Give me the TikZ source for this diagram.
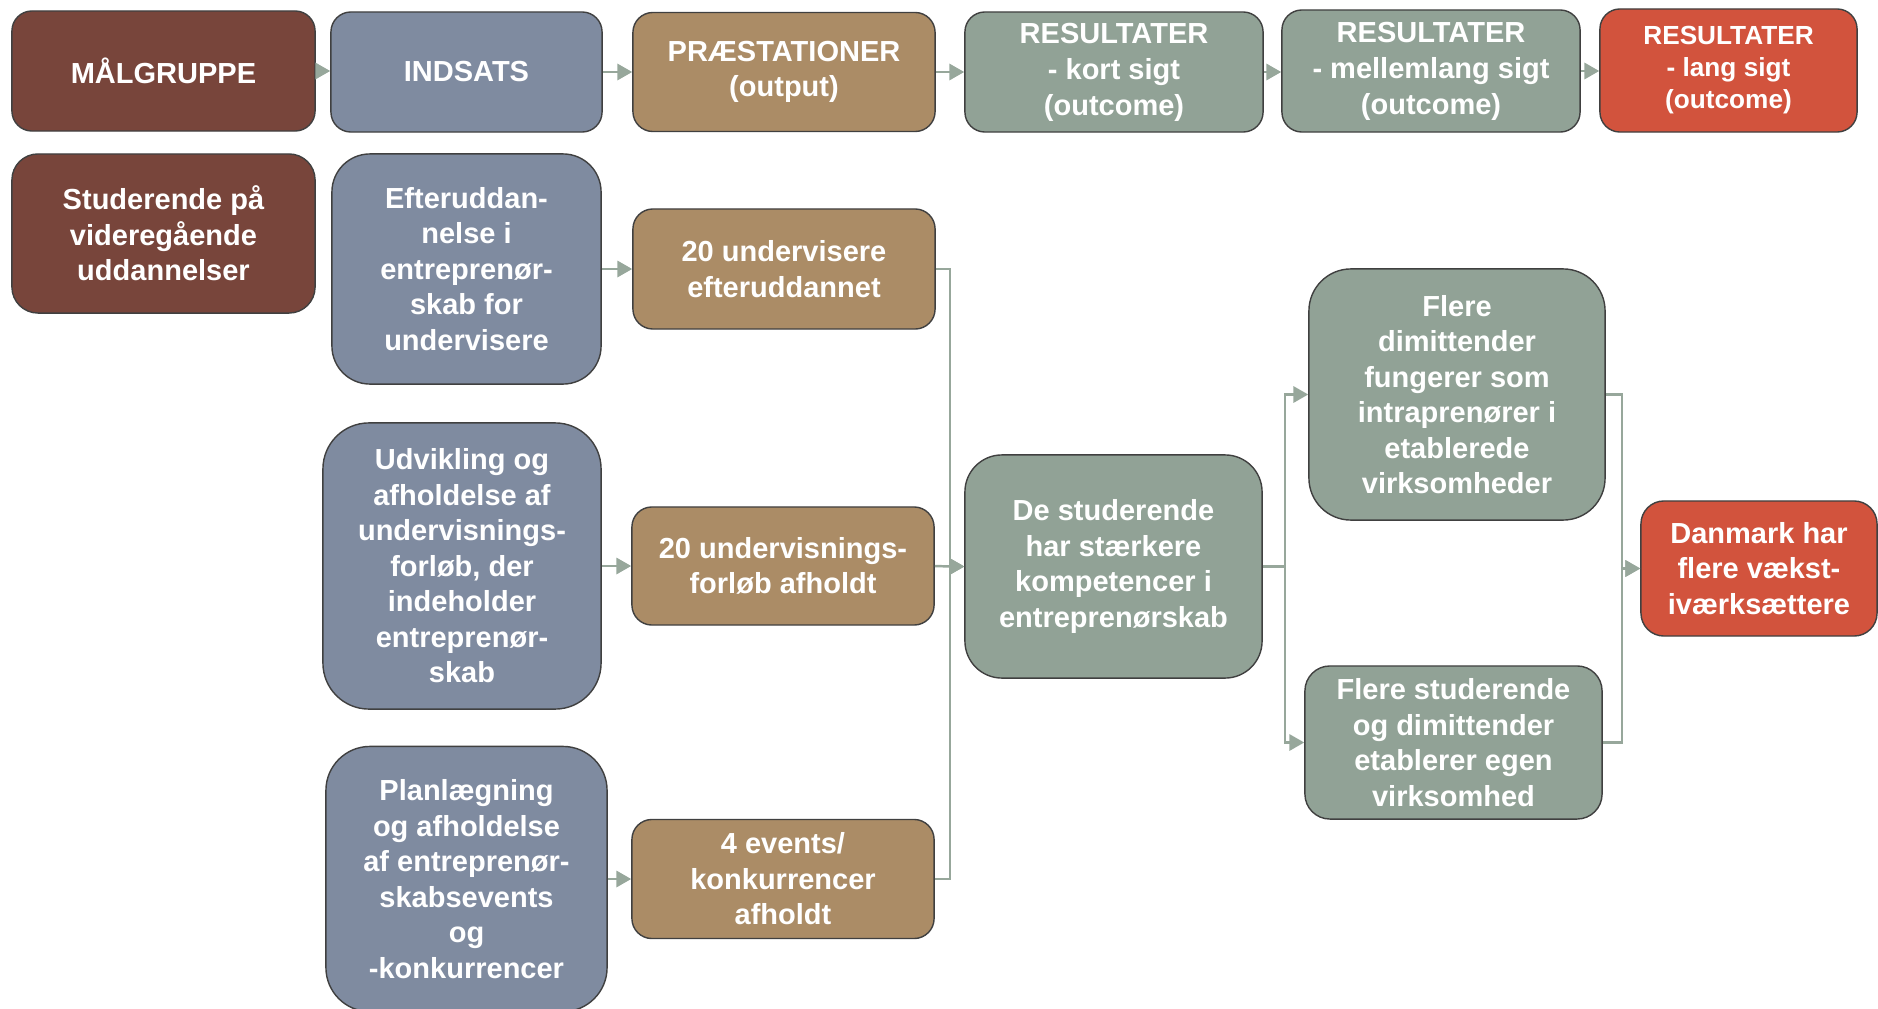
\documentclass[tikz,border=0pt]{standalone}
\usepackage{fontspec}
\setmainfont{Liberation Sans}
\usetikzlibrary{arrows.meta}

\definecolor{mgcol}{HTML}{78453B}
\definecolor{iacol}{HTML}{7F8BA0}
\definecolor{prcol}{HTML}{AB8C66}
\definecolor{recol}{HTML}{91A296}
\definecolor{lscol}{HTML}{D2533D}
\definecolor{lncol}{HTML}{97A79B}

\tikzstyle{bx} = [draw=black!75, line width=0.4pt, text=white, align=center, inner sep=1pt]
\tikzstyle{mg} = [bx, fill=mgcol]
\tikzstyle{ia} = [bx, fill=iacol]
\tikzstyle{pr} = [bx, fill=prcol]
\tikzstyle{re} = [bx, fill=recol]
\tikzstyle{ls} = [bx, fill=lscol]
\tikzstyle{ar} = [draw=lncol, line width=0.7pt, -{Triangle[length=4.2pt,width=4.6pt]}]
\tikzstyle{every node}=[font=\fontsize{8.25}{10.1}\selectfont\bfseries]

\begin{document}
\begin{tikzpicture}[x=0.01cm, y=-0.01cm]
  \useasboundingbox (0,0) rectangle (1878,1009);

  % header row
  \node[mg, minimum width=3.03cm, minimum height=1.2cm, rounded corners=0.2cm] (mal) at (163.5,71) {MÅLGRUPPE};
  \node[ia, minimum width=2.71cm, minimum height=1.2cm, rounded corners=0.2cm] (ind) at (466.5,72) {INDSATS};
  \node[pr, minimum width=3.02cm, minimum height=1.19cm, rounded corners=0.2cm] (prae) at (784,72) {PRÆSTATIONER\\(output)};
  \node[re, minimum width=2.98cm, minimum height=1.2cm, rounded corners=0.2cm, text depth=1.5pt] (kort) at (1114,72) {RESULTATER\\- kort sigt\\(outcome)};
  \node[re, minimum width=2.98cm, minimum height=1.22cm, rounded corners=0.2cm, text depth=1.5pt] (mell) at (1431,71) {RESULTATER\\- mellemlang sigt\\(outcome)};
  \node[ls, minimum width=2.57cm, minimum height=1.23cm, rounded corners=0.2cm,
        font=\fontsize{7.45}{9.1}\selectfont\bfseries, text depth=2pt] (lang) at (1728.5,70.5) {RESULTATER\\- lang sigt\\(outcome)};

  % target group and activities
  \node[mg, minimum width=3.03cm, minimum height=1.59cm, rounded corners=0.26cm] (stud) at (163.5,233.5) {Studerende på\\videregående\\uddannelser};
  \node[ia, minimum width=2.69cm, minimum height=2.3cm, rounded corners=0.38cm] (eft) at (466.5,269) {Efteruddan-\\nelse i\\entreprenør-\\skab for\\undervisere};
  \node[ia, minimum width=2.78cm, minimum height=2.86cm, rounded corners=0.46cm] (udv) at (462,566) {Udvikling og\\afholdelse af\\undervisnings-\\forløb, der\\indeholder\\entreprenør-\\skab};
  \node[ia, minimum width=2.81cm, minimum height=2.65cm, rounded corners=0.44cm] (plan) at (466.5,879) {Planlægning\\og afholdelse\\af entreprenør-\\skabsevents\\og\\-konkurrencer};

  % outputs
  \node[pr, minimum width=3.02cm, minimum height=1.2cm, rounded corners=0.2cm] (out1) at (784,269) {20 undervisere\\efteruddannet};
  \node[pr, minimum width=3.02cm, minimum height=1.18cm, rounded corners=0.2cm] (out2) at (783,566) {20 undervisnings-\\forløb afholdt};
  \node[pr, minimum width=3.02cm, minimum height=1.19cm, rounded corners=0.2cm] (out3) at (783,879) {4 events/\\konkurrencer\\afholdt};

  % outcomes
  \node[re, minimum width=2.97cm, minimum height=2.23cm, rounded corners=0.37cm] (komp) at (1113.5,566.5) {De studerende\\har stærkere\\kompetencer i\\entreprenørskab};
  \node[re, minimum width=2.96cm, minimum height=2.51cm, rounded corners=0.42cm] (dim) at (1457,394.5) {Flere\\dimittender\\fungerer som\\intraprenører i\\etablerede\\virksomheder};
  \node[re, minimum width=2.97cm, minimum height=1.53cm, rounded corners=0.25cm] (egen) at (1453.5,742.5) {Flere studerende\\og dimittender\\etablerer egen\\virksomhed};
  \node[ls, minimum width=2.36cm, minimum height=1.35cm, rounded corners=0.23cm] (dk) at (1759,568.5) {Danmark har\\flere vækst-\\iværksættere};

  % junctions
  \coordinate (j1) at (950,566.5);
  \coordinate (j2) at (1285,566.5);
  \coordinate (j3) at (1622,568.5);

  \draw[ar] (mal.east) -- (mal.east -| ind.west);
  \draw[ar] (ind) -- (prae);
  \draw[ar] (prae) -- (kort);
  \draw[ar] (kort.east) -- (kort.east -| mell.west);
  \draw[ar] (mell.east) -- (mell.east -| lang.west);

  \draw[ar] (eft.east) -- (out1.west);
  \draw[ar] (udv.east) -- (out2.west);
  \draw[ar] (plan.east) -- (out3.west);

  \draw[ar] (out1.east) -| (j1) -- (komp.west);
  \draw[ar] (out2.east) -- (j1) -- (komp.west);
  \draw[ar] (out3.east) -| (j1) -- (komp.west);

  \draw[ar] (komp.east) -- (j2) |- (dim.west);
  \draw[ar] (komp.east) -- (j2) |- (egen.west);

  \draw[ar] (dim.east) -| (j3) -- (dk.west);
  \draw[ar] (egen.east) -| (j3) -- (dk.west);
\end{tikzpicture}
\end{document}
